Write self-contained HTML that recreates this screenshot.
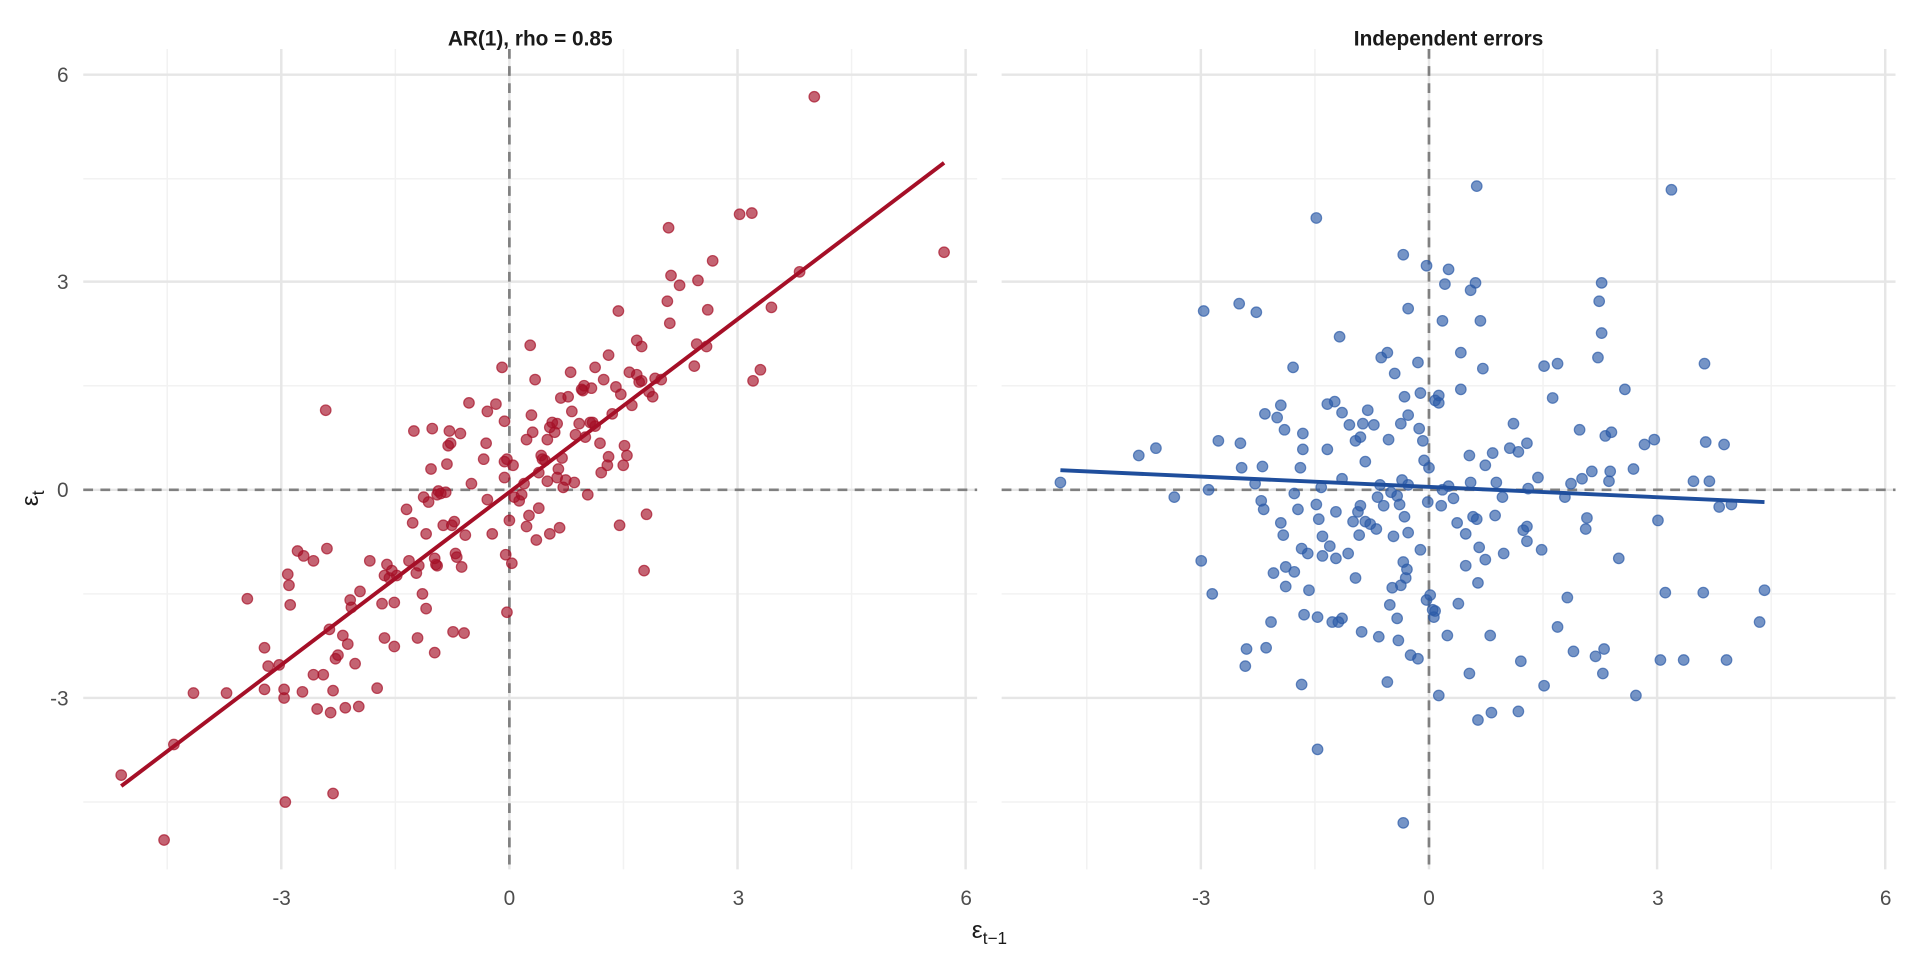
<!DOCTYPE html>
<html><head><meta charset="utf-8"><style>
html,body{margin:0;padding:0;background:#fff;overflow:hidden;}
svg{display:block;font-family:"Liberation Sans",sans-serif;}
</style></head><body>
<svg id="s" width="1920" height="960" viewBox="0 0 1568 784" xmlns="http://www.w3.org/2000/svg">
<rect width="1568" height="784" fill="#fff"/>
<g id="grid"></g>
<g id="pts"></g>
<line x1="99" y1="642" x2="771" y2="133" stroke="#a50f27" stroke-width="3.2"/>
<line x1="866" y1="384" x2="1441" y2="410" stroke="#1f4e9c" stroke-width="3.2"/>
<text x="433" y="37" font-size="17" font-weight="bold" text-anchor="middle" fill="#1a1a1a">AR(1), rho = 0.85</text>
<text x="1183" y="37" font-size="17" font-weight="bold" text-anchor="middle" fill="#1a1a1a">Independent errors</text>
<g font-size="17" fill="#4d4d4d" text-anchor="end">
<text x="56" y="67">6</text><text x="56" y="236">3</text><text x="56" y="406">0</text><text x="56" y="576">-3</text>
</g>
<g font-size="17" fill="#4d4d4d" text-anchor="middle">
<text x="230" y="739">-3</text><text x="416" y="739">0</text><text x="603" y="739">3</text><text x="789" y="739">6</text>
<text x="981" y="739">-3</text><text x="1167" y="739">0</text><text x="1354" y="739">3</text><text x="1540" y="739">6</text>
</g>
<text font-size="20" fill="#1a1a1a" transform="translate(31,407) rotate(-90)" text-anchor="middle">ε<tspan font-size="14" dy="5">t</tspan></text>
<text x="808" y="766" font-size="20" fill="#1a1a1a" text-anchor="middle">ε<tspan font-size="14" dy="5">t−1</tspan></text>
</svg>
<script>
var g=document.getElementById('grid'),p=document.getElementById('pts');
var NS='http://www.w3.org/2000/svg';
function L(x1,y1,x2,y2,c,w,d){var l=document.createElementNS(NS,'line');l.setAttribute('x1',x1);l.setAttribute('y1',y1);l.setAttribute('x2',x2);l.setAttribute('y2',y2);l.setAttribute('stroke',c);l.setAttribute('stroke-width',w);if(d)l.setAttribute('stroke-dasharray',d);return l;}
[[68,798,416],[818,1548,1167]].forEach(function(P){
 var x0=P[0],x1=P[1],z=P[2],k=62.1;
 [-4.5,-1.5,1.5,4.5].forEach(function(v){g.appendChild(L(z+v*k,40,z+v*k,710,'#f2f2f2',1.2));});
 [146,315,485,655].forEach(function(y){g.appendChild(L(x0,y,x1,y,'#f2f2f2',1.2));});
 [-3,0,3,6].forEach(function(v){g.appendChild(L(z+v*k,40,z+v*k,710,'#e6e6e6',2));});
 [61,230,400,570].forEach(function(y){g.appendChild(L(x0,y,x1,y,'#e6e6e6',2));});
});
var red=[[99,633],[134,686],[142,608],[158,566],[185,566],[202,489],[216,529],[216,563],[219,544],[228,543],[232,563],[232,570],[233,655],[235,469],[236,478],[237,494],[243,450],[247,565],[248,454],[256,458],[256,551],[259,579],[264,551],[266,335],[267,448],[269,514],[270,582],[272,564],[272,648],[274,538],[276,535],[280,519],[282,578],[284,526],[286,490],[287,496],[290,542],[293,577],[294,483],[302,458],[308,562],[312,493],[314,470],[314,521],[316,461],[318,472],[320,466],[322,492],[324,470],[332,416],[334,458],[337,427],[338,352],[340,468],[341,521],[342,462],[346,406],[348,436],[348,497],[350,410],[352,383],[353,350],[355,533],[355,456],[356,461],[357,404],[358,401],[360,403],[362,429],[364,402],[365,379],[366,364],[367,352],[368,362],[369,429],[370,516],[371,426],[373,455],[376,354],[377,463],[379,517],[380,437],[383,329],[385,395],[395,375],[397,362],[398,336],[402,436],[405,330],[410,300],[412,344],[412,377],[412,390],[413,453],[414,500],[414,375],[416,425],[418,460],[419,380],[420,406],[424,409],[426,404],[428,395],[430,359],[432,421],[433,282],[434,339],[435,353],[437,310],[438,441],[440,415],[440,386],[442,372],[443,375],[445,376],[447,359],[447,393],[449,349],[449,436],[451,345],[453,353],[455,346],[456,383],[457,431],[458,325],[459,374],[460,398],[462,392],[464,324],[466,304],[467,336],[469,394],[470,355],[473,346],[475,318],[477,315],[478,357],[480,404],[482,345],[483,317],[484,345],[486,348],[490,362],[491,386],[493,310],[496,380],[497,290],[497,373],[500,338],[503,316],[505,254],[506,429],[507,322],[509,380],[510,364],[512,372],[514,304],[516,331],[520,278],[522,312],[524,283],[526,466],[528,420],[530,320],[533,324],[535,309],[540,310],[545,246],[546,186],[547,264],[548,225],[555,233],[567,299],[569,281],[570,229],[577,283],[578,253],[582,213],[604,175],[614,174],[615,311],[621,302],[630,251],[653,222],[665,79],[771,206],[524,311],[520,306],[486,300],[476,319],[455,390],[430,430],[398,408],[372,452],[357,462],[345,485],[322,528]];
var blue=[[866,394],[930,372],[944,366],[959,406],[981,458],[983,254],[987,400],[990,485],[995,360],[1012,248],[1013,362],[1014,382],[1017,544],[1018,530],[1025,395],[1026,255],[1030,409],[1031,381],[1032,416],[1033,338],[1034,529],[1040,468],[1043,341],[1046,331],[1048,437],[1049,351],[1050,463],[1050,479],[1056,300],[1057,403],[1057,467],[1060,416],[1062,382],[1063,448],[1064,354],[1064,367],[1065,502],[1068,452],[1069,482],[1075,412],[1075,178],[1076,504],[1076,612],[1077,424],[1079,398],[1080,438],[1080,454],[1084,367],[1084,330],[1086,446],[1088,508],[1090,328],[1091,418],[1091,456],[1093,508],[1094,275],[1096,337],[1096,391],[1101,452],[1102,347],[1105,426],[1107,360],[1109,418],[1110,437],[1111,413],[1112,516],[1113,346],[1115,377],[1115,426],[1117,335],[1119,428],[1122,347],[1124,432],[1125,406],[1126,520],[1127,396],[1128,292],[1130,413],[1133,288],[1134,359],[1135,494],[1136,402],[1137,480],[1138,438],[1139,305],[1141,505],[1142,523],[1143,412],[1144,346],[1145,392],[1146,459],[1147,422],[1148,472],[1150,396],[1150,252],[1150,339],[1152,535],[1158,538],[1158,296],[1159,350],[1160,321],[1162,360],[1163,376],[1165,217],[1166,410],[1167,382],[1168,486],[1171,504],[1172,499],[1172,327],[1175,329],[1180,232],[1178,262],[1178,400],[1182,519],[1183,397],[1187,407],[1191,493],[1193,288],[1193,318],[1197,436],[1197,462],[1200,372],[1201,394],[1203,422],[1205,231],[1206,424],[1207,476],[1208,447],[1211,301],[1213,457],[1217,519],[1219,370],[1221,421],[1222,394],[1228,452],[1233,366],[1236,346],[1240,369],[1244,433],[1247,430],[1248,399],[1256,390],[1261,560],[1261,299],[1268,325],[1278,406],[1283,395],[1285,532],[1290,351],[1292,391],[1296,423],[1300,385],[1305,292],[1308,272],[1311,356],[1314,393],[1316,353],[1322,456],[1327,318],[1334,383],[1351,359],[1354,425],[1360,484],[1375,539],[1391,484],[1392,297],[1393,361],[1408,363],[1414,412],[1410,539],[1336,568],[1310,530],[1303,536],[1280,488],[1272,512],[1247,442],[1295,432],[1259,449],[1218,582],[1207,588],[1200,550],[1175,568],[1149,465],[1144,478],[1111,357],[1107,472],[1096,505],[1063,559],[1038,508],[1046,427],[1177,413],[1160,449],[1165,490],[1170,498],[1227,406],[1190,427],[1213,380],[1247,362],[1150,435],[1175,323],[1147,324],[1141,405],[1133,557],[1146,672],[1206,152],[1365,155],[1146,208],[1183,220],[1201,237],[1209,262],[1272,297],[1383,393],[1396,393],[1404,414],[1308,231],[1306,246],[1343,363],[1315,385],[1437,508],[1441,482],[1356,539],[1242,540],[1240,581],[1309,550]];
function C(a,col){a.forEach(function(q){var c=document.createElementNS(NS,'circle');c.setAttribute('cx',q[0]);c.setAttribute('cy',q[1]);c.setAttribute('r',4.3);c.setAttribute('fill',col);c.setAttribute('fill-opacity',0.65);c.setAttribute('stroke',col);c.setAttribute('stroke-opacity',0.7);c.setAttribute('stroke-width',1);p.appendChild(c);});}
g.appendChild(L(416,40,416,710,'#808080',2.2,'8,6'));g.appendChild(L(68,400,798,400,'#808080',2.2,'8,6'));
g.appendChild(L(1167,40,1167,710,'#808080',2.2,'8,6'));g.appendChild(L(818,400,1548,400,'#808080',2.2,'8,6'));
C(red,'#a50f27');C(blue,'#2b5aa7');
</script>
</body></html>
